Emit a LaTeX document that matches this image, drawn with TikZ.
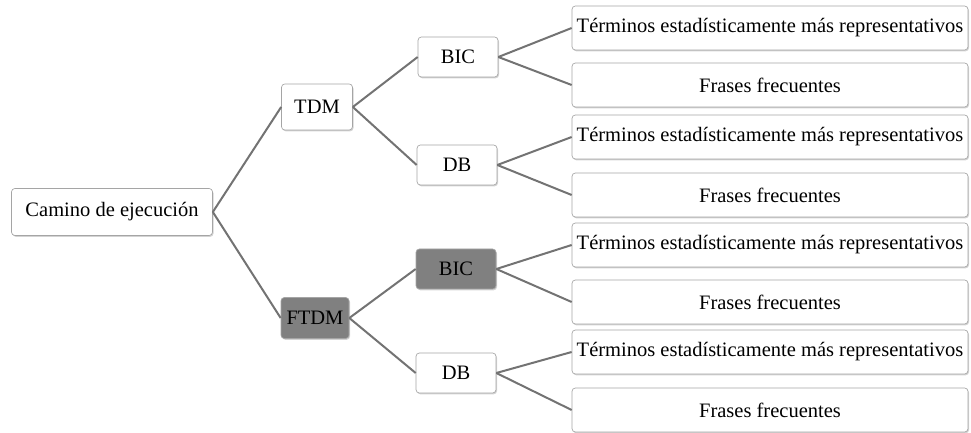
\documentclass[tikz,border=0pt]{standalone}
\usepackage{fontspec}
\setmainfont{Liberation Serif}
\usetikzlibrary{shadows}

\definecolor{linegray}{RGB}{115,115,115}
\definecolor{framegray}{RGB}{165,165,165}
\definecolor{fillgray}{RGB}{128,128,128}

\tikzset{
  box/.style={draw=framegray, fill=white, rounded corners=2pt, inner sep=0pt,
    drop shadow={shadow xshift=0.6pt, shadow yshift=-0.8pt, opacity=0.35},
    font=\fontsize{12.3}{14}\selectfont},
  darkbox/.style={box, fill=fillgray},
  leafbox/.style={box, minimum width=237.6pt, minimum height=26.4pt},
  midbox/.style={minimum width=48pt, minimum height=24pt},
  branch/.style={draw=linegray, line width=1.2pt},
}

\begin{document}
\begin{tikzpicture}[x=0.6pt,y=-0.6pt]
\useasboundingbox (0,0) rectangle (971,433);

% root and first level
\node[box, minimum width=120.6pt, minimum height=28.2pt] (root) at (112,212) {Camino de ejecución};
\node[box, minimum width=42.6pt, minimum height=27.6pt] (tdm) at (317,107) {TDM};
\node[darkbox, minimum width=40.8pt, minimum height=24.6pt] (ftdm) at (315,318) {FTDM};

% second level
\node[box, midbox] (bic1) at (458,57) {BIC};
\node[box, midbox] (db1) at (457,165) {DB};
\node[darkbox, midbox] (bic2) at (456,269) {BIC};
\node[box, midbox] (db2) at (456,373) {DB};

% leaves
\node[leafbox] (t1) at (770,28) {Términos estadísticamente más representativos};
\node[leafbox] (f1) at (770,85) {Frases frecuentes};
\node[leafbox] (t2) at (770,137) {Términos estadísticamente más representativos};
\node[leafbox] (f2) at (770,195) {Frases frecuentes};
\node[leafbox] (t3) at (770,245) {Términos estadísticamente más representativos};
\node[leafbox] (f3) at (770,302) {Frases frecuentes};
\node[leafbox] (t4) at (770,352) {Términos estadísticamente más representativos};
\node[leafbox] (f4) at (770,410) {Frases frecuentes};

% connectors
\draw[branch] (root.east) -- (tdm.west);
\draw[branch] (root.east) -- (ftdm.west);
\draw[branch] (tdm.east) -- (bic1.west);
\draw[branch] (tdm.east) -- (db1.west);
\draw[branch] (ftdm.east) -- (bic2.west);
\draw[branch] (ftdm.east) -- (db2.west);
\draw[branch] (bic1.east) -- (t1.west);
\draw[branch] (bic1.east) -- (f1.west);
\draw[branch] (db1.east) -- (t2.west);
\draw[branch] (db1.east) -- (f2.west);
\draw[branch] (bic2.east) -- (t3.west);
\draw[branch] (bic2.east) -- (f3.west);
\draw[branch] (db2.east) -- (t4.west);
\draw[branch] (db2.east) -- (f4.west);
\end{tikzpicture}
\end{document}
